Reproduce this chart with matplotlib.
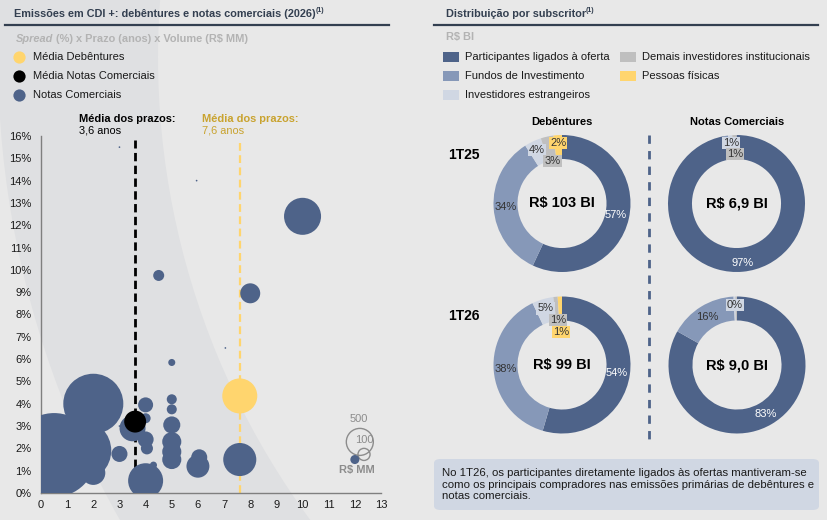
import matplotlib
matplotlib.use("Agg")
import numpy as np
import matplotlib.pyplot as plt
from matplotlib.patches import Wedge, FancyBboxPatch
from matplotlib.lines import Line2D

plt.rcParams['font.family'] = ['Liberation Sans', 'DejaVu Sans']

W, H = 828, 520

# --- dados: emissoes CDI+ (prazo em anos, spread em %, volume em R$ MM)
prazo = [10.0, 4.5, 8.0, 3.0, 5.95, 7.05, 3.0, 5.0, 7.6, 2.0, 0.5, 1.5, 2.0, 3.5,
         4.0, 4.0, 4.0, 4.05, 4.0, 4.3, 3.0, 5.0, 5.0, 5.0, 5.0, 5.0, 5.0, 6.0, 6.05, 12.0]
spread = [12.4, 9.75, 8.95, 15.5, 14.0, 6.5, 3.0, 5.85, 1.5, 4.0, 1.7, 1.9, 0.9, 2.9,
          3.95, 3.35, 2.4, 2.0, 0.55, 1.25, 1.75, 4.2, 3.75, 3.05, 2.3, 1.85, 1.5, 1.2, 1.6, 1.5]
volume = [940, 83, 274, 2, 2, 2, 2, 34, 750, 2470, 4840, 2640, 395, 464,
          154, 69, 176, 100, 840, 34, 176, 69, 69, 200, 250, 250, 250, 360, 176, 56]

media_nomes = ['Média Debêntures', 'Média Notas Comerciais']
media_prazo = [7.6, 3.6]
media_spread = [4.35, 3.2]
media_volume = [840, 330]

escala_vol = [500, 100]

# --- distribuicao por subscritor (%)
categorias = ['Participantes ligados à oferta', 'Fundos de Investimento',
              'Investidores estrangeiros', 'Demais investidores institucionais',
              'Pessoas físicas']
deb_1t25 = [57, 34, 4, 3, 2]
nc_1t25 = [97, 1, 1, 1, 0]
deb_1t26 = [54, 38, 5, 1, 1]
nc_1t26 = [83, 16, 0.4, 0.4, 0]
totais = ['R$ 103 BI', 'R$ 6,9 BI', 'R$ 99 BI', 'R$ 9,0 BI']
periodos = ['1T25', '1T26']
tipos = ['Debêntures', 'Notas Comerciais']

nota = ('No 1T26, os participantes diretamente ligados às ofertas mantiveram-se\n'
        'como os principais compradores nas emissões primárias de debêntures e\n'
        'notas comerciais.')

# cores
NAVY = '#4e6389'
cores = ['#4e6389', '#8698b8', '#d0d7e3', '#bfbfbf', '#ffd56e']
TITLE_C = '#333f50'
GRAY_T = '#b3b3b3'
BG = '#e8e8e8'
FS = 8

fig = plt.figure(figsize=(W / 100, H / 100), dpi=100, facecolor=BG)
renderer = fig.canvas.get_renderer()


def fx(x):
    return x / W


def fy(y):
    return 1 - y / H


def runs(x, y, parts):
    # textos em sequencia (titulo + sobrescrito etc)
    for s, dy, kw in parts:
        t = fig.text(fx(x), fy(y + dy), s, va='center', ha='left', **kw)
        x += t.get_window_extent(renderer).width


# faixa curva decorativa no fundo do painel esquerdo
band = Wedge((9.38, 5.2 - 0.57), 9.4, 0, 360, width=1.6, transform=fig.dpi_scale_trans,
             facecolor='#dfe0e2', edgecolor='none', zorder=-1)
fig.add_artist(band)

# ---------------- painel esquerdo ----------------
runs(14, 14, [('Emissões em CDI +: debêntures e notas comerciais (2026)', 0,
               dict(fontsize=7.8, fontweight='bold', color=TITLE_C)),
              ('(1)', -3, dict(fontsize=5, fontweight='bold', color=TITLE_C))])
fig.add_artist(Line2D([fx(5), fx(389)], [fy(24.5), fy(24.5)], color=TITLE_C, lw=1.6,
                      transform=fig.transFigure))
runs(16, 39, [('Spread', 0, dict(fontsize=7.9, fontweight='bold', style='italic', color=GRAY_T)),
              (' (%) x Prazo (anos) x Volume (R$ MM)', 0,
               dict(fontsize=7.9, fontweight='bold', color=GRAY_T))])

leg_cores = ['#ffd56e', '#000000', NAVY]
leg_nomes = media_nomes + ['Notas Comerciais']
for i, (nm, c) in enumerate(zip(leg_nomes, leg_cores)):
    yy = 57 + i * 19
    fig.add_artist(Line2D([fx(19)], [fy(yy)], marker='o', markersize=8.8, color=c,
                          markeredgewidth=0, linestyle='none', transform=fig.transFigure))
    fig.text(fx(33), fy(yy), nm, fontsize=FS, va='center', color='#1a1a1a')

ax = fig.add_axes([fx(41), fy(493), (381 - 41) / W, (493 - 136) / H])
ax.set_facecolor('none')
ax.set_xlim(0, 13)
ax.set_ylim(0, 16)

k = 27 / np.sqrt(500)  # px por sqrt(R$ MM)


def sz(v):
    return (k * np.sqrt(np.asarray(v, dtype=float)) * 72 / 100) ** 2


ax.vlines(media_prazo[1], 0, 15.8, colors='black', lw=2, linestyles=(0, (3, 1.6)), zorder=2)
ax.vlines(media_prazo[0], 0, 15.8, colors='#ffd56e', lw=1.6, linestyles=(0, (3.5, 2)), zorder=2)

# legenda de tamanho
ax.scatter([12.19, 12.35], [2.29, 1.73], s=sz(escala_vol), facecolors='none',
           edgecolors='#8c8c8c', linewidths=1, zorder=2)
ax.text(12.16, 3.32, str(escala_vol[0]), fontsize=FS, color='#8c8c8c', ha='center', va='center')
ax.text(12.35, 2.38, str(escala_vol[1]), fontsize=FS, color='#8c8c8c', ha='center', va='center')
ax.text(12.08, 1.03, 'R$ MM', fontsize=FS, color='#8c8c8c', ha='center', va='center',
        fontweight='bold')

ax.scatter(prazo, spread, s=sz(volume), c=NAVY, linewidths=0, zorder=3)
ax.scatter(media_prazo, media_spread, s=sz(media_volume), c=['#ffd56e', '#000000'],
           linewidths=0, zorder=4)

ax.text(1.45, 16.75, 'Média dos prazos:', fontsize=7.9, fontweight='bold', va='center')
ax.text(1.45, 16.23, '3,6 anos', fontsize=7.9, va='center')
ax.text(6.15, 16.75, 'Média dos prazos:', fontsize=7.9, fontweight='bold', va='center',
        color='#c9a32f')
ax.text(6.15, 16.23, '7,6 anos', fontsize=7.9, va='center', color='#c9a32f')

ax.set_xticks(range(0, 14))
ax.set_yticks(range(0, 17))
ax.set_yticklabels([f'{v}%' for v in range(0, 17)])
ax.tick_params(length=0, labelsize=FS, colors='#1a1a1a')
ax.tick_params(axis='y', pad=7)
ax.tick_params(axis='x', pad=5)
for s in ['top', 'right']:
    ax.spines[s].set_visible(False)
for s in ['left', 'bottom']:
    ax.spines[s].set_color('#7f7f7f')
    ax.spines[s].set_linewidth(1)

# ---------------- painel direito ----------------
runs(446, 14, [('Distribuição por subscritor', 0,
                dict(fontsize=7.8, fontweight='bold', color=TITLE_C)),
               ('(1)', -3, dict(fontsize=5, fontweight='bold', color=TITLE_C))])
fig.add_artist(Line2D([fx(434), fx(818)], [fy(24.5), fy(24.5)], color=TITLE_C, lw=1.6,
                      transform=fig.transFigure))
fig.text(fx(446), fy(37), 'R$ BI', fontsize=7.9, fontweight='bold', color=GRAY_T, va='center')

leg_pos = [(443, 57), (443, 76), (443, 95), (620, 57), (620, 76)]
for (lx, ly), nm, c in zip(leg_pos, categorias, cores):
    fig.add_artist(FancyBboxPatch((fx(lx), fy(ly + 5)), 16 / W, 10 / H, boxstyle='square,pad=0',
                                  facecolor=c, edgecolor='none', transform=fig.transFigure))
    fig.text(fx(lx + 22), fy(ly), nm, fontsize=FS, va='center', color='#1a1a1a')

for nm, cx in zip(tipos, [562, 737]):
    fig.text(fx(cx), fy(122), nm, fontsize=FS, fontweight='bold', ha='center', va='center')
for nm, yy in zip(periodos, [155, 316]):
    fig.text(fx(464), fy(yy), nm, fontsize=10, fontweight='bold', ha='center', va='center')

donuts = [
    (deb_1t25, (562, 203.5), {0: 0.8, 1: 0.82, 2: 0.86, 3: 0.64, 4: 0.89}),
    (nc_1t25, (736.5, 203.5), {0: 0.87, 2: 0.89, 3: 0.72}),
    (deb_1t26, (562, 365), {0: 0.8, 1: 0.82, 2: 0.86, 3: 0.66, 4: 0.48}),
    (nc_1t26, (737, 365), {0: 0.835, 1: 0.82, 2: 0.88}),
]
R = 68.5
for (vals, (cx, cy), labs), tot in zip(donuts, totais):
    dax = fig.add_axes([fx(cx - R), fy(cy + R), 2 * R / W, 2 * R / H])
    dax.set_facecolor('none')
    dax.pie(vals, colors=cores, startangle=90, counterclock=False, radius=1,
            wedgeprops=dict(width=0.35, linewidth=0))
    dax.set_xlim(-1, 1)
    dax.set_ylim(-1, 1)
    dax.axis('off')
    fr = np.array(vals, dtype=float) / sum(vals)
    cum = np.concatenate([[0], np.cumsum(fr)])
    for i, r in labs.items():
        mid = (cum[i] + cum[i + 1]) / 2
        ang = np.deg2rad(90 - 360 * mid)
        txt = f'{vals[i]:.0f}%'
        if i == 0:
            dax.text(r * np.cos(ang), r * np.sin(ang), txt, fontsize=FS, color='white',
                     ha='center', va='center')
        elif i == 1:
            dax.text(r * np.cos(ang), r * np.sin(ang), txt, fontsize=FS, color='#333333',
                     ha='center', va='center')
        else:
            dax.text(r * np.cos(ang), r * np.sin(ang), txt, fontsize=FS, color='#333333',
                     ha='center', va='center',
                     bbox=dict(boxstyle='square,pad=0.1', facecolor=cores[i], edgecolor='none'))
    dax.text(0, 0, tot, fontsize=10.5, fontweight='bold', ha='center', va='center')

fig.add_artist(Line2D([fx(649), fx(649)], [fy(135), fy(444)], color=NAVY, lw=2,
                      linestyle=(0, (3, 2.6)), transform=fig.transFigure))

fig.add_artist(FancyBboxPatch((fx(434), fy(510)), (819 - 434) / W, (510 - 459) / H,
                              boxstyle='round,pad=0,rounding_size=0.008',
                              facecolor='#d0d7e3', edgecolor='none', transform=fig.transFigure))
fig.text(fx(442), fy(484.5), nota, fontsize=8.2, va='center', ha='left', linespacing=1.15,
         color='#1a1a1a')

fig.savefig('out.png', dpi=100, facecolor=BG)
